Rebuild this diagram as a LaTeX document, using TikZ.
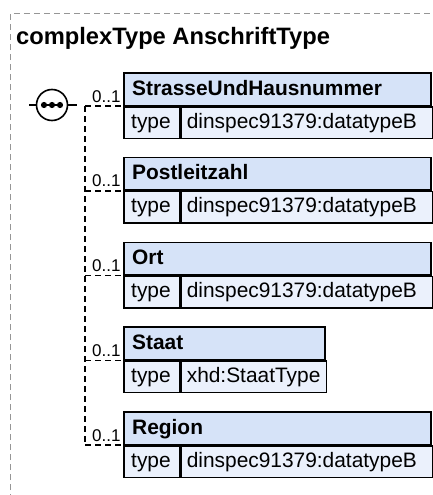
\documentclass[tikz,border=0pt]{standalone}
\usepackage{fontspec}
\setmainfont{Liberation Sans}
\usetikzlibrary{calc}
\definecolor{hdr}{RGB}{214,227,248}
\definecolor{rowc}{RGB}{235,241,252}
\definecolor{frm}{RGB}{150,150,150}
\begin{document}
\begin{tikzpicture}[x=1pt,y=-1pt,
  hdrbox/.style={draw=black, line width=1.6pt, fill=hdr, anchor=north west, minimum height=32.5pt, inner sep=0pt},
  rowcell/.style={draw=black, line width=1.6pt, fill=rowc, anchor=north west, minimum height=31.5pt, inner sep=0pt},
  lbl/.style={anchor=base west, inner sep=0pt, font=\fontsize{20.9}{24}\selectfont},
  hlbl/.style={anchor=base west, inner sep=0pt, font=\fontsize{20.9}{24}\selectfont\bfseries},
  occ/.style={anchor=base west, inner sep=0pt, font=\fontsize{17}{20}\selectfont},
  conn/.style={line width=1.4pt, dash pattern=on 6pt off 4pt},
]
\useasboundingbox (0,0) rectangle (433,495);
\draw[frm, line width=1pt, dash pattern=on 6pt off 4pt] (10,500) -- (10,14) -- (440,14);
\node[anchor=base west, inner sep=0pt, font=\fontsize{23.7}{28}\selectfont\bfseries] (title) at (16,45) {complexType AnschriftType};
\foreach \i/\t/\name/\typ/\w in {1/72/StrasseUndHausnummer/dinspec91379:datatypeB/307, 2/156.75/Postleitzahl/dinspec91379:datatypeB/307, 3/241.5/Ort/dinspec91379:datatypeB/307, 4/326.25/Staat/xhd:StaatType/201, 5/411/Region/dinspec91379:datatypeB/307}{
  \pgfmathsetmacro\vw{\w-56}
  \node[hdrbox, minimum width=\w pt] (h\i) at (123,\t) {};
  \node[rowcell, minimum width=56pt] (tl\i) at (h\i.south west) {};
  \node[rowcell, minimum width=\vw pt] (tv\i) at (tl\i.north east) {};
  \node[hlbl] (n\i) at ($(h\i.north west)+(9,23)$) {\name};
  \node[lbl] (tt\i) at ($(tl\i.north west)+(8,22)$) {type};
  \node[lbl] (tx\i) at ($(tv\i.north west)+(6,22)$) {\typ};
  \node[occ] (o\i) at ($(h\i.south west)+(-31,-4)$) {0..1};
  \coordinate (j\i) at ($(h\i.south west)+(-38,0)$);
  \draw[conn] (j\i) -- (h\i.south west);
}
\draw[conn] (j1) -- (j5);
\node[circle, draw, line width=1.6pt, fill=white, minimum size=31pt, inner sep=0pt] (seq) at (52,105) {};
\draw[line width=2pt] ($(seq.center)+(-8,0)$) -- ($(seq.center)+(8,0)$);
\foreach \dx in {-8,0,8}{\fill ($(seq.center)+(\dx,0)$) circle (3.1);}
\draw[line width=1.6pt] (seq.west) -- ++(-7,0);
\draw[line width=1.6pt] (seq.east) -- ++(9,0);
\end{tikzpicture}
\end{document}
